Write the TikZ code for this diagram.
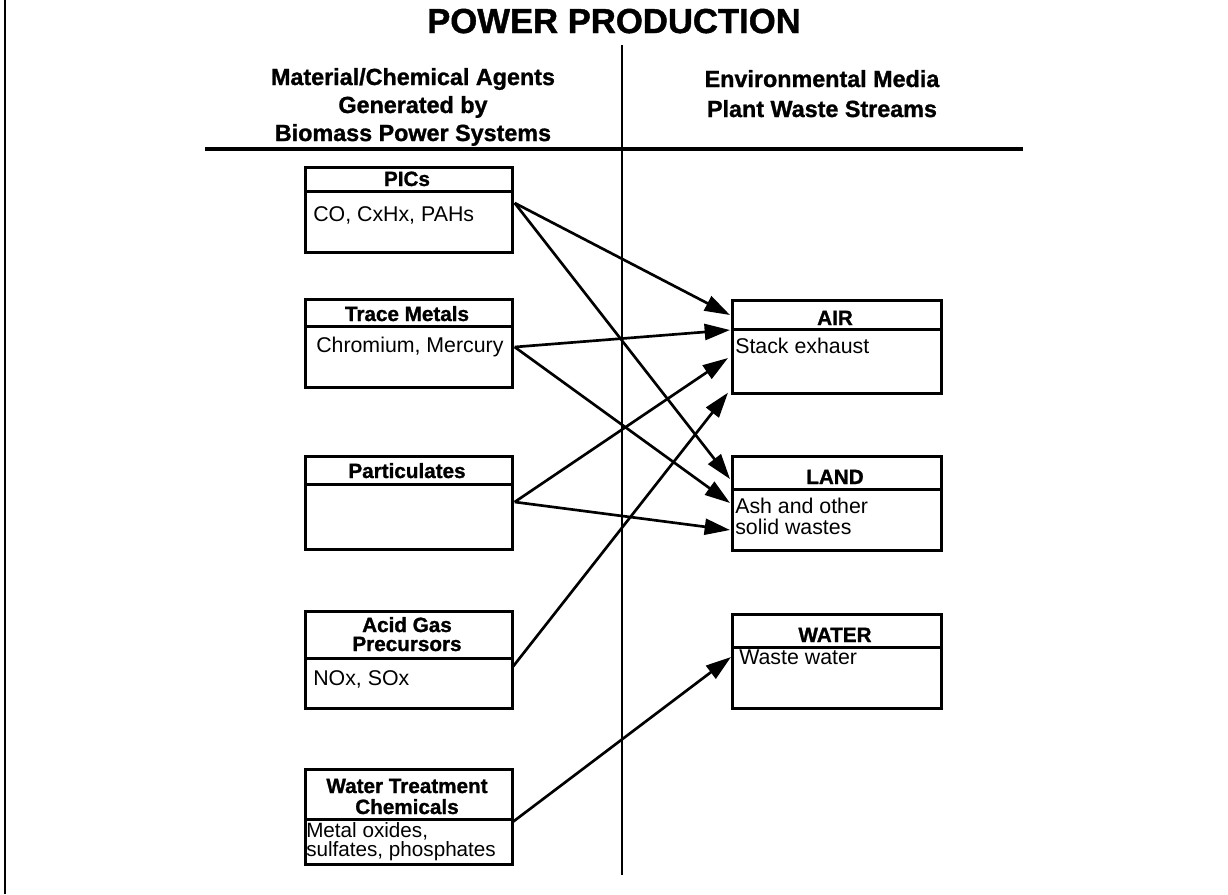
\documentclass[tikz,border=0pt]{standalone}
\usepackage{fontspec}
\setmainfont{Liberation Sans}[BoldFeatures={FakeBold=1.2}]
\usetikzlibrary{arrows.meta,calc}
\tikzset{
  hdrbox/.style={draw, line width=2pt, rectangle, inner sep=0pt, anchor=north west},
  bodybox/.style={draw, line width=2pt, rectangle, inner sep=0pt, anchor=north west},
  htext/.style={inner sep=0pt, anchor=base, font=\fontsize{15.5}{18}\selectfont\bfseries},
  btext/.style={inner sep=0pt, anchor=base west, font=\fontsize{16}{19}\selectfont},
  coltext/.style={inner sep=0pt, anchor=base, font=\fontsize{17.5}{20}\selectfont\bfseries},
  arr/.style={line width=2pt, -{Triangle[length=19pt,width=12pt]}}
}
% name, x, top, divider, bottom, width
\newcommand{\twobox}[6]{%
  \node[hdrbox, minimum width=#6*0.75pt, minimum height=(#4-#3)*0.75pt] (#1h) at (#2,#3) {};
  \node[bodybox, minimum width=#6*0.75pt, minimum height=(#5-#4)*0.75pt] (#1b) at (#2,#4) {};
}
\begin{document}
\begin{tikzpicture}[x=0.75pt,y=-0.75pt]
\useasboundingbox (0,0) rectangle (1228,894);
% frame line at left
\coordinate (ftop) at (5,0);
\coordinate (fbot) at (5,894);
\draw[line width=1.8pt] (ftop) -- (fbot);
% title
\node[inner sep=0pt, anchor=base, font=\fontsize{26}{30}\selectfont\bfseries] (title) at (614,33) {POWER PRODUCTION};
% column headings
\node[coltext] (lh1) at (413,85) {Material/Chemical Agents};
\node[coltext] (lh2) at (413,113) {Generated by};
\node[coltext] (lh3) at (413,141) {Biomass Power Systems};
\node[coltext] (rh1) at (822,87) {Environmental Media};
\node[coltext] (rh2) at (822,117) {Plant Waste Streams};
% rules
\coordinate (hl) at (205,149);
\coordinate (hr) at (1023,149);
\draw[line width=2.4pt] (hl) -- (hr);
\coordinate (vt) at (622,45);
\coordinate (vb) at (622,875);
\draw[line width=1.4pt] (vt) -- (vb);
% left boxes
\twobox{pics}{304}{166}{190}{251}{207}
\twobox{trace}{304}{298}{325}{386}{207}
\twobox{part}{304}{455}{483}{548}{207}
\twobox{acid}{304}{610}{657}{707}{207}
\twobox{wtt}{304}{768}{818}{863}{207}
% right boxes
\twobox{air}{731}{299}{328}{392}{209}
\twobox{land}{731}{455}{488}{549}{209}
\twobox{wat}{731}{613}{646}{707}{209}
% header texts
\node[htext] (t1) at (407,186) {PICs};
\node[htext] (t2) at (407,321) {Trace Metals};
\node[htext] (t3) at (407,478) {Particulates};
\node[htext] (t4a) at (407,632) {Acid Gas};
\node[htext] (t4b) at (407,651) {Precursors};
\node[htext] (t5a) at (407,793) {Water Treatment};
\node[htext] (t5b) at (407,814) {Chemicals};
\node[htext] (t6) at (835,325) {AIR};
\node[htext] (t7) at (835,484) {LAND};
\node[htext] (t8) at (835,642) {WATER};
% body texts
\node[btext] (b1) at (313,221) {CO, CxHx, PAHs};
\node[btext] (b2) at (316,352) {Chromium, Mercury};
\node[btext] (b4) at (313,685) {NOx, SOx};
\node[btext, font=\fontsize{15.5}{18}\selectfont] (b5a) at (306,837) {Metal oxides,};
\node[btext, font=\fontsize{15.5}{18}\selectfont] (b5b) at (306,856) {sulfates, phosphates};
\node[btext] (b6) at (735,353) {Stack exhaust};
\node[btext] (b7a) at (735,513) {Ash and other};
\node[btext] (b7b) at (735,534) {solid wastes};
\node[btext] (b8) at (739,664) {Waste water};
% arrows
\draw[arr] ($(picsb.north east)+(1,13)$) -- ($(airh.north west)+(-1,16)$);
\draw[arr] ($(picsb.north east)+(1,13)$) -- ($(landh.north west)+(-1,24)$);
\draw[arr] ($(traceb.north east)+(1,22)$) -- ($(airb.north west)+(-1,2)$);
\draw[arr] ($(traceb.north east)+(1,22)$) -- ($(landb.north west)+(-1,15)$);
\draw[arr] ($(partb.north east)+(1,19)$) -- ($(airb.north west)+(-3,30)$);
\draw[arr] ($(partb.north east)+(1,19)$) -- ($(landb.north west)+(-1,42)$);
\draw[arr] ($(acidb.north east)+(-1,10)$) -- ($(airb.south west)+(-3,-2)$);
\draw[arr] ($(wttb.north east)+(-1,4)$) -- ($(watb.north west)+(0,11)$);
\end{tikzpicture}
\end{document}
